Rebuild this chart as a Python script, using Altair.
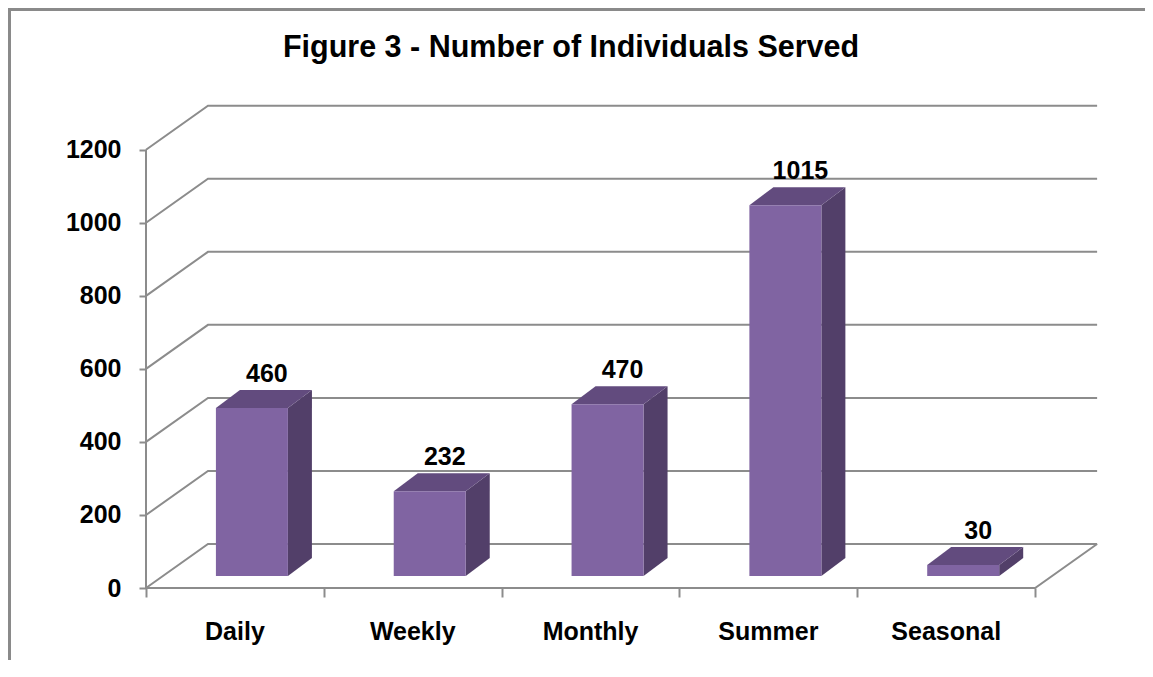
import altair as alt
import pandas as pd

# ---------------- data ----------------
categories = ["Daily", "Weekly", "Monthly", "Summer", "Seasonal"]
values = [460, 232, 470, 1015, 30]
y_ticks = [0, 200, 400, 600, 800, 1000, 1200]
title_text = "Figure 3 - Number of Individuals Served"

# ---------------- geometry / style ----------------
W, H = 951, 485
X_MAX = 5.348
Y_MAX = 1328.0
PX_X = W / X_MAX
PX_Y = H / Y_MAX

WALL_DX = 62 / PX_X
WALL_DY = 44 / PX_Y
BAR_OFF_DX = 17 / PX_X
BAR_OFF_DY = 12 / PX_Y
BAR_W = 72 / PX_X
BAR_DX = 24 / PX_X
BAR_DY = 18 / PX_Y
LABEL_DX = 3 / PX_X

FONT = "Liberation Sans"
GRID = "#8c8c8c"
FRONT = "#8064A2"
SIDE = "#523F69"
TOP = "#624B7E"
N = len(categories)

# ---------------- tables built from the data ----------------
grid_rows = []
for v in y_ticks:
    pts = [(0, v), (WALL_DX, v + WALL_DY), (N + WALL_DX, v + WALL_DY)]
    for k, (gx, gy) in enumerate(pts):
        grid_rows.append({"id": f"g{v}", "ord": k, "x": gx, "y": gy})
for k, (gx, gy) in enumerate([(0, 0), (N, 0), (N + WALL_DX, WALL_DY)]):
    grid_rows.append({"id": "floor", "ord": k, "x": gx, "y": gy})
for k, (gx, gy) in enumerate([(0, 0), (0, y_ticks[-1])]):
    grid_rows.append({"id": "yaxis", "ord": k, "x": gx, "y": gy})
grid_df = pd.DataFrame(grid_rows)

front_rows, side_rows, top_rows, lab_rows, cat_rows = [], [], [], [], []
for i, (c, v) in enumerate(zip(categories, values)):
    cx = i + 0.5 + BAR_OFF_DX
    L, R = cx - BAR_W / 2, cx + BAR_W / 2
    b = BAR_OFF_DY
    front_rows.append({"cat": c, "x": L, "x2": R, "y": b, "y2": v + b})
    side_rows.append({"cat": c, "x": R, "y": b, "y2": v + b})
    side_rows.append({"cat": c, "x": R + BAR_DX, "y": b + BAR_DY, "y2": v + b + BAR_DY})
    top_rows.append({"cat": c, "y": v + b, "x": L, "x2": R})
    top_rows.append({"cat": c, "y": v + b + BAR_DY, "x": L + BAR_DX, "x2": R + BAR_DX})
    lab_rows.append({"label": str(v), "x": cx + BAR_DX / 2 + LABEL_DX, "y": v + b + BAR_DY})
    cat_rows.append({"cat": c, "x": i + 0.5, "y": 0})
front_df = pd.DataFrame(front_rows)
side_df = pd.DataFrame(side_rows)
top_df = pd.DataFrame(top_rows)
lab_df = pd.DataFrame(lab_rows)
cat_df = pd.DataFrame(cat_rows)

# ---------------- scales / axes ----------------
xs = alt.Scale(domain=[0, X_MAX], nice=False, zero=False)
ys = alt.Scale(domain=[0, Y_MAX], nice=False, zero=True)
xaxis = alt.Axis(values=list(range(N + 1)), labels=False, domain=False, grid=False,
                 tickSize=9, tickColor=GRID, tickWidth=2, title=None)
yaxis = alt.Axis(values=y_ticks, format="d", domain=False, grid=False, tickSize=7,
                 tickColor=GRID, tickWidth=2, labelFontSize=25, labelFont=FONT,
                 labelFontWeight="bold", labelColor="black", labelPadding=18, title=None)


def X(f="x:Q", **kw):
    return alt.X(f, scale=xs, axis=xaxis, **kw)


def Y(f="y:Q", **kw):
    return alt.Y(f, scale=ys, axis=yaxis, **kw)


grid = alt.Chart(grid_df).mark_line(color=GRID, strokeWidth=2).encode(
    x=X(), y=Y(), detail="id:N", order="ord:Q")

side = alt.Chart(side_df).mark_area(color=SIDE, orient="vertical").encode(
    x=X(), y=Y(stack=None), y2="y2:Q", detail="cat:N")

top = alt.Chart(top_df).mark_area(color=TOP, orient="horizontal").encode(
    y=Y(), x=X(stack=None), x2="x2:Q", detail="cat:N")

front = alt.Chart(front_df).mark_rect(color=FRONT).encode(
    x=X(), x2="x2:Q", y=Y(), y2="y2:Q")

vlabels = alt.Chart(lab_df).mark_text(
    font=FONT, fontSize=25, fontWeight="bold", color="black", baseline="bottom", dy=-3
).encode(x=X(), y=Y(), text="label:N")

clabels = alt.Chart(cat_df).mark_text(
    font=FONT, fontSize=25, fontWeight="bold", color="black", baseline="middle", dy=44
).encode(x=X(), y=Y(), text="cat:N")

title = alt.Chart(pd.DataFrame({"t": [title_text]})).mark_text(
    font=FONT, fontSize=30.5, fontWeight="bold", color="black", baseline="alphabetic", align="center"
).encode(text="t:N", x=alt.value(571 - 146), y=alt.value(57 - 103))

border_df = pd.DataFrame({"k": [0]})
border_left = alt.Chart(border_df).mark_rule(color="#8a8a8a", strokeWidth=3).encode(
    x=alt.value(-136.5), y=alt.value(-95), y2=alt.value(H + 72))
border_top = alt.Chart(border_df).mark_rule(color="#8a8a8a", strokeWidth=3).encode(
    x=alt.value(-138), x2=alt.value(W + 48), y=alt.value(-93.5))

chart = alt.layer(
    grid, side, top, front, vlabels, clabels, title, border_left, border_top
).properties(
    width=W, height=H,
    autosize=alt.AutoSizeParams(type="none"),
    padding={"left": 138, "top": 95, "right": 48, "bottom": 72},
    background="white",
).configure_view(stroke=None)

chart.save("out.html", embed_options={"renderer": "svg", "actions": False})
